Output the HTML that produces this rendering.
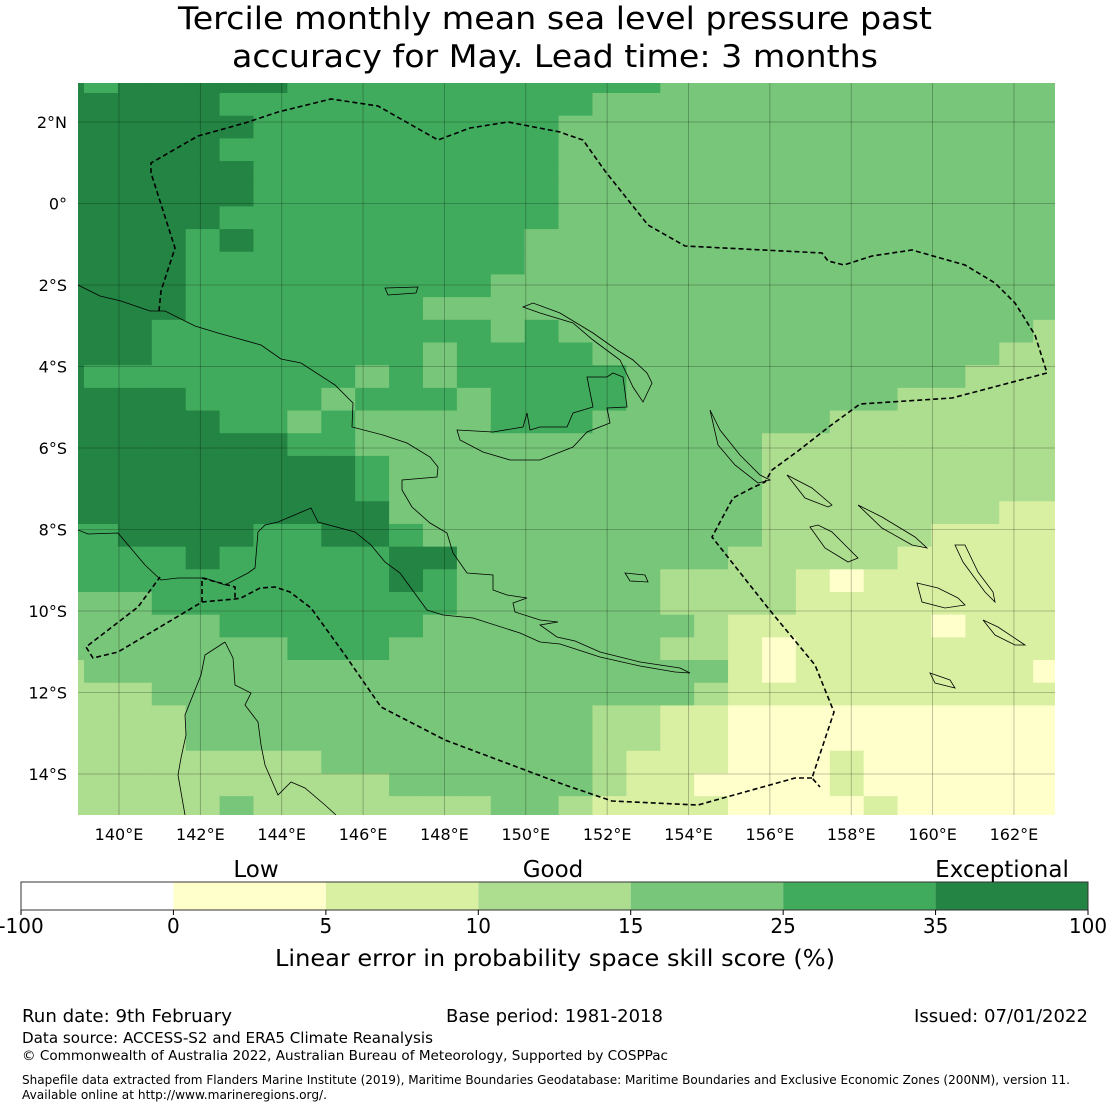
<!DOCTYPE html>
<html><head><meta charset="utf-8">
<style>
html,body{margin:0;padding:0;background:#fff;}
svg{display:block;font-family:"DejaVu Sans","Liberation Sans",sans-serif;}
</style></head>
<body>
<svg id="chart" width="1110" height="1110" viewBox="0 0 1110 1110" xmlns="http://www.w3.org/2000/svg">
<rect x="0" y="0" width="1110" height="1110" fill="#fff"/>
<text x="555" y="29" font-size="31" text-anchor="middle" textLength="754" lengthAdjust="spacingAndGlyphs">Tercile monthly mean sea level pressure past</text>
<text x="555" y="67" font-size="31" text-anchor="middle" textLength="646" lengthAdjust="spacingAndGlyphs">accuracy for May. Lead time: 3 months</text>
<defs><clipPath id="mapclip"><rect x="78" y="83" width="977" height="732"/></clipPath></defs>
<g id="map" clip-path="url(#mapclip)">
  <g id="cells"></g>
  <g id="grid"></g>
  <g id="coast" fill="none" stroke="#000" stroke-width="0.8"></g>
  <g id="eez" fill="none" stroke="#000" stroke-width="1.6" stroke-dasharray="5,3"></g>
</g>
<g id="xticks"></g>
<g id="yticks"></g>
<g id="cbar"></g>
<text x="256" y="877" font-size="23" text-anchor="middle">Low</text>
<text x="553" y="877" font-size="23" text-anchor="middle">Good</text>
<text x="1002" y="877" font-size="23" text-anchor="middle">Exceptional</text>
<text x="555" y="966" font-size="23" text-anchor="middle" textLength="560" lengthAdjust="spacingAndGlyphs">Linear error in probability space skill score (%)</text>
<text x="22" y="1022" font-size="17.5" textLength="210" lengthAdjust="spacingAndGlyphs">Run date: 9th February</text>
<text x="446" y="1022" font-size="17.5" textLength="217" lengthAdjust="spacingAndGlyphs">Base period: 1981-2018</text>
<text x="1088" y="1022" font-size="17.5" text-anchor="end" textLength="174" lengthAdjust="spacingAndGlyphs">Issued: 07/01/2022</text>
<text x="22" y="1043" font-size="15.5" textLength="411" lengthAdjust="spacingAndGlyphs">Data source: ACCESS-S2 and ERA5 Climate Reanalysis</text>
<text x="22" y="1060" font-size="13.5" textLength="646" lengthAdjust="spacingAndGlyphs">© Commonwealth of Australia 2022, Australian Bureau of Meteorology, Supported by COSPPac</text>
<text x="22" y="1084" font-size="12" textLength="1048" lengthAdjust="spacingAndGlyphs">Shapefile data extracted from Flanders Marine Institute (2019), Maritime Boundaries Geodatabase: Maritime Boundaries and Exclusive Economic Zones (200NM), version 11.</text>
<text x="22" y="1099" font-size="12" textLength="305" lengthAdjust="spacingAndGlyphs">Available online at http://www.marineregions.org/.</text>
</svg>
<script>
// ---- data ----
const binLabels = ['-100','0','5','10','15','25','35','100'];
const binColors = ['#ffffff','#ffffcc','#d9f0a3','#addd8e','#78c679','#41ab5d','#238443'];
const categoryNames = ['Low','Good','Exceptional'];
const lonTicks = [140,142,144,146,148,150,152,154,156,158,160,162];
const latTicks = [2,0,-2,-4,-6,-8,-10,-12,-14];
// skill category index per grid cell (row 0 = north), digits index binColors
const skillRows = [
'656666655555555555444444444444',
'666665555555555544444444444444',
'666666555555555444444444444444',
'666665555555555444444444444444',
'666666555555555444444444444444',
'666666555555555444444444444444',
'666665555555555444444444444444',
'666656555555554444444444444444',
'666655555555554444444444444444',
'666655555555544444444444444444',
'666655555554444444444444444444',
'666555555555545444444444444443',
'666555555554555544444444444433',
'655555555454555554444444444333',
'666655554555455554444444433333',
'666665545444455544444443333333',
'666666655444444444444333333333',
'666666666544444444444333333333',
'666666666544444444444333333333',
'666666666644444444444333333322',
'556666556654444444444333332222',
'555565555566444444443333322222',
'555555555565444444333321222222',
'444555555555444444333322222222',
'444445555554444444432222221222',
'444444455544444444332122222222',
'344444444444444444442122222221',
'333444444444444444432222222222',
'333344444444444433221111111111',
'333344444444444433221111111111',
'333333334444444432221112111111',
'333333333344444432211112111111',
'333334333333344322221111211111'
];
// ---- axis functions ----
const x = lon => 119 + (lon - 140) * 40.68;
const y = lat => 122 - (lat - 2) * 40.75;
const gridLon0 = 139.1396 - 0.8333;
const gridLat0 = 2.7117 + 0.5566;
const dLon = 0.8333, dLat = 0.5566;
const NS = 'http://www.w3.org/2000/svg';
function mk(tag, attrs, parent){const e=document.createElementNS(NS,tag);for(const k in attrs)e.setAttribute(k,attrs[k]);parent.appendChild(e);return e;}

const cells = document.getElementById('cells');
skillRows.forEach((row, r) => {
  for (let c = 0; c < row.length; c++) {
    const v = +row[c];
    const x0 = x(gridLon0 + c*dLon), x1 = x(gridLon0 + (c+1)*dLon);
    const y0 = y(gridLat0 - r*dLat), y1 = y(gridLat0 - (r+1)*dLat);
    const el = mk('rect', {x:x0, y:y0, width:x1-x0+0.6, height:y1-y0+0.6, fill:binColors[v]}, cells);
    
    
  }
});
const grid = document.getElementById('grid');
lonTicks.forEach(l => {
  const g = mk('line', {x1:x(l), x2:x(l), y1:83, y2:815, stroke:'#000', 'stroke-opacity':0.3, 'stroke-width':0.8}, grid);
  
  
  const t = mk('text', {x:x(l), y:840, 'font-size':16, 'text-anchor':'middle'}, document.getElementById('xticks'));
  t.textContent = l + '°E';
  
  
});
latTicks.forEach(l => {
  const g = mk('line', {x1:78, x2:1055, y1:y(l), y2:y(l), stroke:'#000', 'stroke-opacity':0.3, 'stroke-width':0.8}, grid);
  
  
  const t = mk('text', {x:67, y:y(l)+6, 'font-size':16, 'text-anchor':'end'}, document.getElementById('yticks'));
  t.textContent = l > 0 ? l + '°N' : (l === 0 ? '0°' : (-l) + '°S');
  
  
});

// ---- coastlines (map geometry, pixel paths) ----
const coastPaths = [
 'M78,285 L100,296 L121,301 L150,311 L165,311 L195,326 L218,333 L261,345 L281,359 L301,363 L335,385 L353,403 L352,427 L383,435 L407,443 L430,457 L438,467 L437,477 L402,480 L402,490 L412,507 L430,523 L447,533 L453,553 L467,573 L493,575 L493,590 L507,595 L527,598 L513,603 L515,612 L540,620 L558,622 L540,625 L557,637 L575,641 L600,652 L640,662 L680,668 L690,673 L675,672 L640,666 L600,657 L560,644 L540,642 L520,633 L473,618 L443,615 L427,610 L400,573 L385,562 L371,545 L355,532 L318,522 L311,508 L278,522 L265,525 L258,532 L255,568 L248,573 L225,585 L205,578 L178,578 L161,580 L145,565 L118,533 L88,534 L78,530',
 'M457,430 L493,432 L523,427 L527,413 L530,430 L540,427 L567,427 L573,413 L593,407 L587,377 L607,377 L613,373 L623,377 L627,407 L607,408 L610,423 L587,432 L573,447 L540,460 L510,460 L483,452 L460,440 Z',
 'M523,307 L533,303 L560,313 L593,333 L617,350 L633,360 L647,373 L652,383 L643,402 L633,387 L620,360 L593,340 L573,323 L540,313 Z',
 'M385,288 L418,287 L416,293 L388,295 Z',
 'M225,642 L233,658 L235,685 L251,693 L245,705 L258,722 L261,745 L265,765 L278,795 L291,782 L305,788 L325,805 L336,815',
 'M225,642 L205,655 L201,675 L193,695 L185,715 L186,735 L181,758 L178,775 L185,815',
 'M710,410 L720,430 L740,455 L760,475 L770,480 L758,483 L735,465 L718,445 Z',
 'M787,475 L812,488 L832,505 L828,507 L805,498 Z',
 'M858,505 L882,517 L915,537 L927,548 L912,545 L882,528 Z',
 'M917,583 L938,588 L958,598 L965,605 L945,608 L922,602 Z',
 'M955,545 L965,545 L978,572 L993,592 L995,602 L985,592 L963,562 Z',
 'M983,620 L998,627 L1025,645 L1015,645 L995,635 Z',
 'M810,527 L818,525 L832,532 L845,545 L858,558 L848,562 L825,548 Z',
 'M625,573 L645,575 L648,582 L630,581 Z',
 'M930,673 L950,680 L955,688 L935,683 Z'
];
const coast = document.getElementById('coast');
coastPaths.forEach(d => {
  const p = mk('path', {d}, coast);
  
  
});
const eezPaths = [
 'M159,311 L161,291 L175,248 L151,173 L151,163 L198,136 L245,123 L278,112 L331,99 L378,106 L438,140 L470,128 L508,122 L560,132 L568,135 L583,140 L605,171 L648,225 L685,246 L822,253 L828,261 L844,265 L872,256 L912,250 L965,265 L995,283 L1015,303 L1035,335 L1047,373 L952,398 L860,404 L830,426 L798,451 L772,470 L765,482 L752,488 L733,498 L712,537 L768,608 L815,665 L834,712 L812,778 L820,787',
 'M812,778 L795,778 L698,805 L612,801 L565,785 L445,740 L381,707 L345,655 L311,608 L290,592 L275,587 L260,588 L241,598 L235,599 L202,602 L118,652 L93,658 L86,647 L138,607 L160,577',
 'M202,602 L202,578 L235,587 L235,599'
];
const eez = document.getElementById('eez');
eezPaths.forEach(d => {
  const p = mk('path', {d}, eez);
  
  
});

// ---- colorbar ----
const cbar = document.getElementById('cbar');
const cbX0 = 21, cbX1 = 1088, cbY = 882, cbH = 28;
const segW = (cbX1 - cbX0) / binColors.length;
binColors.forEach((col, i) => {
  const r = mk('rect', {x:cbX0 + i*segW, y:cbY, width:segW, height:cbH, fill:col}, cbar);
  
  
});
mk('rect', {x:cbX0, y:cbY, width:cbX1-cbX0, height:cbH, fill:'none', stroke:'#333', 'stroke-width':1}, cbar);
binLabels.forEach((lab, i) => {
  const tx = cbX0 + i*segW;
  mk('line', {x1:tx, x2:tx, y1:cbY+cbH, y2:cbY+cbH+5, stroke:'#000'}, cbar);
  const t = mk('text', {x:tx, y:933, 'font-size':20, 'text-anchor':'middle'}, cbar);
  t.textContent = lab;
  
  
});
</script>
</body></html>
